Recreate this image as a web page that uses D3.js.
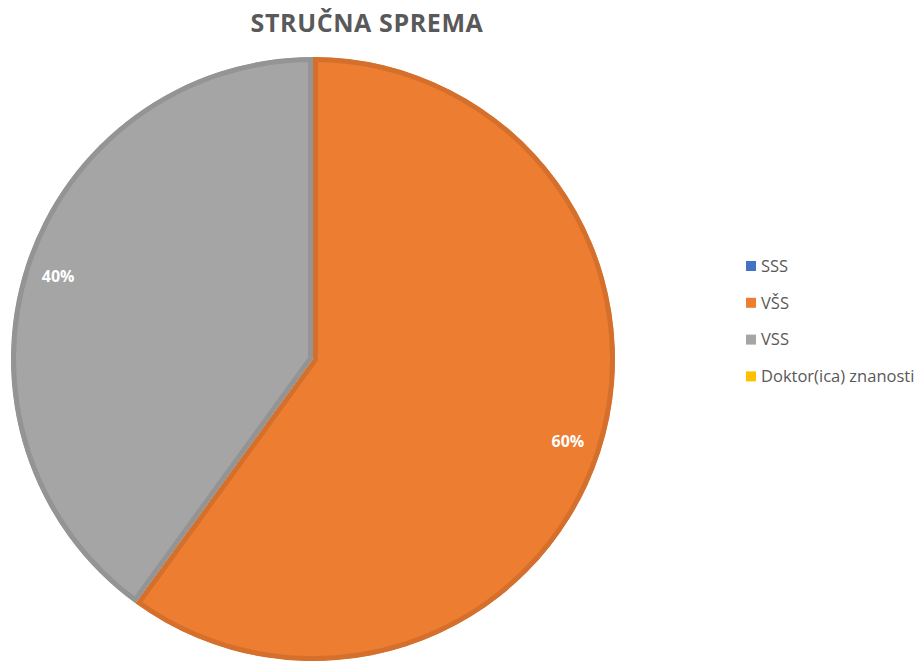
<!DOCTYPE html>
<html>
<head>
<meta charset="utf-8">
<script src="https://cdn.jsdelivr.net/npm/d3@7"></script>
<style>
  body { margin: 0; background: #fff; }
  svg { display: block; font-family: "Open Sans", "Noto Sans", sans-serif; }
</style>
</head>
<body>
<svg id="chart" width="923" height="663"></svg>
<script>
(function () {
    'use strict';

    var categories = ['SSS', 'VŠS', 'VSS', 'Doktor(ica) znanosti'];
    var values = [0, 60, 40, 0];
    var colors = ['#4472C4', '#ED7D31', '#A5A5A5', '#FFC000'];

    var data = categories.map(function (c, i) { return {name: c, value: values[i], color: colors[i]}; });
    var total = d3.sum(values);

    var svg = d3.select('#chart');
    var cx = 313, cy = 359, r = 302, bw = 5;

    svg.append('text')
        .attr('x', 367).attr('y', 32)
        .attr('text-anchor', 'middle')
        .style('font-size', '25px')
        .style('font-weight', 'bold')
        .style('fill', '#595959')
        .style('letter-spacing', '0.6px')
        .text('STRUČNA SPREMA');

    var pie = d3.pie().sort(null).value(function (d) { return d.value; });
    var arcs = pie(data).filter(function (d) { return d.value > 0; });
    var arc = d3.arc().innerRadius(0).outerRadius(r);

    var defs = svg.append('defs');
    defs.selectAll('clipPath')
        .data(arcs)
      .enter().append('clipPath')
        .attr('id', function (d, i) { return 'clip' + i; })
      .append('path')
        .attr('d', arc);

    var g = svg.append('g').attr('transform', 'translate(' + cx + ',' + cy + ')');

    // stroke twice the border width, clipped, so the darker edge sits inside each slice
    g.selectAll('path.slice')
        .data(arcs)
      .enter().append('path')
        .attr('class', 'slice')
        .attr('d', arc)
        .attr('clip-path', function (d, i) { return 'url(#clip' + i + ')'; })
        .style('fill', function (d) { return d.data.color; })
        .style('stroke', function (d) { return d3.color(d.data.color).darker(0.3); })
        .style('stroke-width', bw * 2)
        .style('stroke-linejoin', 'miter');

    var labelArc = d3.arc().innerRadius(268).outerRadius(268);
    g.selectAll('text.lbl')
        .data(arcs)
      .enter().append('text')
        .attr('class', 'lbl')
        .attr('transform', function (d) { return 'translate(' + labelArc.centroid(d) + ')'; })
        .attr('text-anchor', 'middle')
        .attr('dy', '0.35em')
        .style('fill', '#fff')
        .style('font-size', '16px')
        .style('font-weight', 'bold')
        .text(function (d) { return Math.round(d.value / total * 100) + '%'; });

    var legend = svg.append('g').attr('transform', 'translate(746,266)');
    var item = legend.selectAll('g')
        .data(data)
      .enter().append('g')
        .attr('transform', function (d, i) { return 'translate(0,' + (i * 36.8) + ')'; });
    item.append('rect')
        .attr('x', 0).attr('y', -5)
        .attr('width', 10).attr('height', 10)
        .style('fill', function (d) { return d.color; });
    item.append('text')
        .attr('x', 15).attr('dy', '0.35em')
        .style('font-size', '16.5px')
        .style('fill', '#595959')
        .text(function (d) { return d.name; });
}());
</script>
</body>
</html>
